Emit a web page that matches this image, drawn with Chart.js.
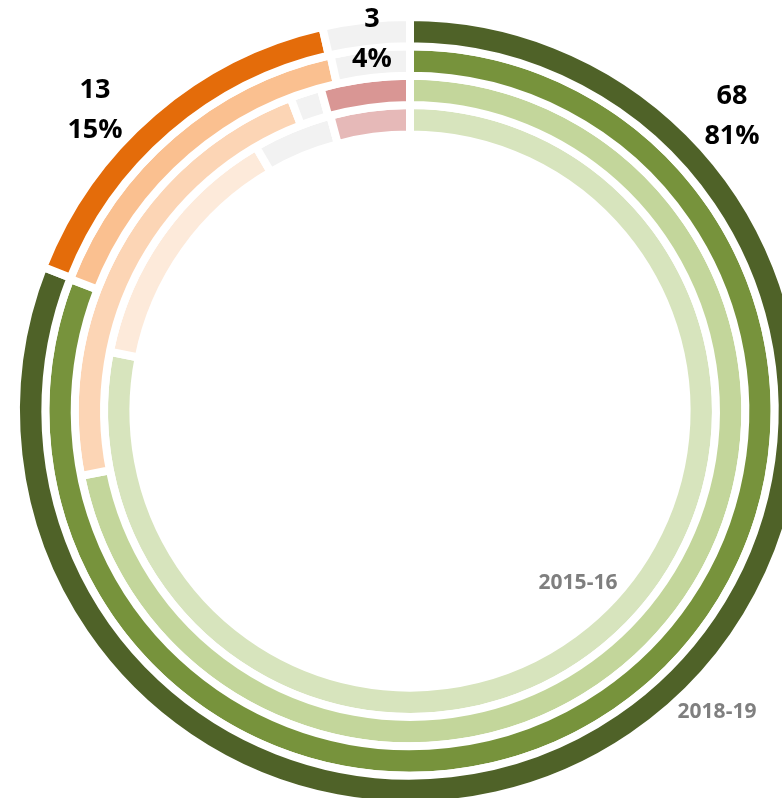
<!DOCTYPE html>
<html>
<head>
<meta charset="utf-8">
<script src="https://cdn.jsdelivr.net/npm/chart.js@4/dist/chart.umd.min.js"></script>
<style>
	html, body { margin: 0; padding: 0; overflow: hidden; background: #fff; }
	body { width: 782px; height: 798px; position: relative; }
	#wrap { position: absolute; left: 0; top: 0; width: 820px; height: 822px; }
</style>
</head>
<body>
<div id="wrap"><canvas id="ringChart"></canvas></div>
<script>
// categories, in drawing order (clockwise from 12 o'clock)
const categories = ['Green', 'Orange', 'Grey', 'Red'];
// rings, outermost first
const years = ['2018-19', '2017-18', '2016-17', '2015-16'];
// 2018-19 counts (labelled ring)
const values1819 = [68, 13, 3, 0];
// inner rings, shares in %
const values1718 = [80.9, 15.6, 3.5, 0];
const values1617 = [71.9, 22.3, 1.5, 4.3];
const values1516 = [78.1, 13.5, 4.2, 4.2];

const ringColors = [
	['#4f6228', '#e46c0a', '#f2f2f2', '#c0504d'],
	['#77933c', '#fac090', '#f2f2f2', '#d99694'],
	['#c3d69b', '#fcd5b5', '#f2f2f2', '#d99694'],
	['#d7e4bd', '#fdeada', '#f2f2f2', '#e6b9b8']
];
const ringValues = [values1819, values1718, values1617, values1516];

// text placed around the centre (offsets from centre, px)
const valueLabelPos = [[322, -295], [-315, -301], [-38, -372]];
const yearLabels = [
	{ text: years[0], dx: 307, dy: 301 },
	{ text: years[3], dx: 168, dy: 172 }
];

const labelPlugin = {
	id: 'ringLabels',
	afterDatasetsDraw(chart) {
		const ctx = chart.ctx;
		const arc = chart.getDatasetMeta(0).data[0];
		const cx = arc.x, cy = arc.y;
		const total = values1819.reduce((a, b) => a + b, 0);
		ctx.save();
		ctx.textAlign = 'center';
		ctx.textBaseline = 'middle';
		ctx.fillStyle = '#000';
		ctx.font = 'bold 27px "Open Sans"';
		valueLabelPos.forEach(function(p, i) {
			const v = values1819[i];
			const pct = Math.round(v / total * 100) + '%';
			ctx.fillText(String(v), cx + p[0], cy + p[1] - 20);
			ctx.fillText(pct, cx + p[0], cy + p[1] + 20);
		});
		ctx.fillStyle = '#7f7f7f';
		ctx.font = 'bold 21px "Open Sans"';
		yearLabels.forEach(function(l) {
			ctx.fillText(l.text, cx + l.dx, cy + l.dy);
		});
		ctx.restore();
	}
};

new Chart(document.getElementById('ringChart'), {
	type: 'doughnut',
	data: {
		labels: categories,
		datasets: ringValues.map(function(vals, i) {
			return {
				label: years[i],
				data: vals,
				backgroundColor: ringColors[i],
				borderColor: '#ffffff',
				borderWidth: 8,
				hoverBorderWidth: 8
			};
		})
	},
	options: {
		responsive: true,
		maintainAspectRatio: false,
		animation: false,
		cutout: '70.2%',
		// keeps the ring centre where the picture has it, canvas runs past the window
		layout: { padding: { left: 12, top: 13, right: 12, bottom: 13 } },
		plugins: {
			legend: { display: false },
			tooltip: { enabled: false }
		}
	},
	plugins: [labelPlugin]
});
</script>
</body>
</html>
